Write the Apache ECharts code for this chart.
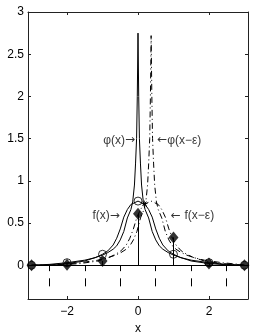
<!DOCTYPE html>
<html><head><meta charset="utf-8">
<script src="https://cdn.jsdelivr.net/npm/echarts@6/dist/echarts.min.js"></script>
<style>html,body{margin:0;padding:0;background:#fff}#c{width:256px;height:334px}</style>
</head><body><div id="c"></div>
<script>
// phi(x): solid spike
const phiX = [-3,-2.5,-2,-1.5,-1,-0.85,-0.7,-0.6,-0.5,-0.4,-0.3,-0.2,-0.15,-0.1,-0.07,-0.04,-0.02,0,0.02,0.04,0.07,0.1,0.15,0.2,0.3,0.4,0.5,0.6,0.7,0.85,1,1.5,2,2.5,3];
const phiY = [0,0.005,0.02,0.05,0.12,0.15,0.19,0.23,0.3,0.4,0.56,0.66,0.75,0.95,1.2,1.5,2.0,2.75,2.0,1.5,1.2,0.95,0.75,0.66,0.56,0.4,0.3,0.23,0.19,0.15,0.12,0.05,0.02,0.005,0];
// phi(x-eps): dash-dot spike
const phiEpsX = [-3,-2.63,-2.13,-1.63,-1.13,-0.63,-0.48,-0.33,-0.23,-0.13,-0.03,0.07,0.17,0.22,0.27,0.30,0.33,0.35,0.37,0.39,0.41,0.44,0.47,0.52,0.57,0.67,0.77,0.87,0.97,1.07,1.22,1.37,1.87,2.37,2.87,3];
const phiEpsY = [0,0,0.005,0.02,0.05,0.12,0.15,0.19,0.23,0.3,0.4,0.56,0.66,0.75,0.95,1.2,1.5,2.0,2.72,2.0,1.5,1.2,0.95,0.75,0.66,0.56,0.4,0.3,0.23,0.19,0.15,0.12,0.05,0.02,0.005,0];
// f(x): solid smooth bump
const fX = [-3,-2.5,-2,-1.5,-1.2,-1,-0.85,-0.7,-0.6,-0.5,-0.4,-0.3,-0.2,0,0.2,0.3,0.4,0.5,0.6,0.7,0.85,1,1.2,1.5,2,2.5,3];
const fY = [0,0.01,0.03,0.06,0.09,0.13,0.17,0.24,0.32,0.43,0.57,0.66,0.72,0.76,0.72,0.66,0.57,0.43,0.32,0.24,0.17,0.13,0.09,0.06,0.03,0.01,0];
// f(x-eps): dash-dot bump
const fEpsX = [-3,-2.63,-2.13,-1.63,-1.13,-0.83,-0.63,-0.48,-0.33,-0.23,-0.13,-0.03,0.07,0.17,0.37,0.57,0.67,0.77,0.87,0.97,1.07,1.22,1.37,1.57,1.87,2.37,2.87,3];
const fEpsY = [0,0,0.01,0.03,0.06,0.09,0.13,0.17,0.24,0.32,0.43,0.57,0.66,0.72,0.76,0.72,0.66,0.57,0.43,0.32,0.24,0.17,0.13,0.09,0.06,0.03,0.01,0];
// samples
const circleX = [-3,-2,-1,0,1,2,3];
const circleY = [0,0.03,0.13,0.76,0.13,0.03,0];
const diamondX = [-3,-2,-1,0,1,2,3];
const diamondY = [0,0.005,0.05,0.61,0.33,0.02,0];
const starPt = [0.18,0.73];
// half-integer dashed marks below zero
const halfX = [-2.5,-1.5,-0.5,0.5,1.5,2.5];
const halfSeg1 = [0,-0.07];
const halfSeg2 = [-0.155,-0.25];
// ticks
const xTicks = [-2,0,2];
const yTicks = [0,0.5,1,1.5,2,2.5,3];
// annotations (text part and arrow part)
const annText = ['φ(x)','φ(x−ε)','f(x)','f(x−ε)'];
const annArrow = ['→','←','→','← '];
const annX = [-0.08,0.54,-0.51,0.92];
const annY = [1.48,1.48,0.59,0.59];
const annSide = ['left','right','left','right'];

const pairs = (xs, ys) => xs.map((x, i) => [x, ys[i]]);
const black = '#000';
const dashDot = [6,3,1,3];
const font = 'Liberation Sans, Arial, Helvetica, sans-serif';

function curve(xs, ys, dashed) {
  return {type:'line', data:pairs(xs, ys), symbol:'none', silent:true,
    lineStyle:{color:black, width:1, type: dashed ? dashDot : 'solid'}, z:3};
}
const segs = [];
diamondX.forEach((x, i) => segs.push({coords:[[x,0],[x,diamondY[i]]]}));
halfX.forEach(x => { segs.push({coords:[[x,halfSeg1[0]],[x,halfSeg1[1]]]}); segs.push({coords:[[x,halfSeg2[0]],[x,halfSeg2[1]]]}); });
segs.push({coords:[[-3.1,0],[3.1,0]]});

const axisLine = {show:true, onZero:false, lineStyle:{color:'#222', width:1}};
const chart = echarts.init(document.getElementById('c'), null, {renderer:'canvas'});
chart.setOption({
  animation:false,
  grid:{left:28, right:8, top:12, bottom:35, containLabel:false, outerBoundsMode:'none'},
  xAxis:[
    {type:'value', min:-3.1, max:3.1, position:'bottom', axisLine,
     axisTick:{show:true, inside:true, length:3, customValues:xTicks, lineStyle:{color:'#222'}},
     axisLabel:{customValues:xTicks, color:black, fontSize:12, fontFamily:font, margin:7,
       formatter:v => String(v).replace('-', '−')},
     splitLine:{show:false},
     name:'x', nameLocation:'middle', nameGap:21, nameTextStyle:{color:black, fontSize:12, fontFamily:font}},
    {type:'value', min:-3.1, max:3.1, position:'top', axisLine,
     axisTick:{show:true, inside:true, length:3, customValues:xTicks, lineStyle:{color:'#222'}},
     axisLabel:{show:false}, splitLine:{show:false}}
  ],
  yAxis:[
    {type:'value', min:-0.4, max:3, position:'left', axisLine,
     axisTick:{show:true, inside:true, length:3, customValues:yTicks, lineStyle:{color:'#222'}},
     axisLabel:{customValues:yTicks, color:black, fontSize:12, fontFamily:font, margin:4},
     splitLine:{show:false}},
    {type:'value', min:-0.4, max:3, position:'right', axisLine,
     axisTick:{show:true, inside:true, length:3, customValues:yTicks, lineStyle:{color:'#222'}},
     axisLabel:{show:false}, splitLine:{show:false}}
  ],
  series:[
    {type:'lines', coordinateSystem:'cartesian2d', data:segs, silent:true,
     lineStyle:{color:black, width:1, opacity:1}, z:2},
    curve(phiX, phiY, false),
    curve(phiEpsX, phiEpsY, true),
    curve(fX, fY, false),
    curve(fEpsX, fEpsY, true),
    {type:'scatter', data:pairs(circleX, circleY), symbol:'circle', symbolSize:8, silent:true,
     itemStyle:{color:'rgba(0,0,0,0)', borderColor:black, borderWidth:1}, z:4},
    {type:'scatter', data:pairs(diamondX, diamondY), symbol:'diamond', symbolSize:[10,12], silent:true,
     itemStyle:{color:black}, z:5},
    {type:'scatter', data:[starPt], symbol:'path://M5,0L5,10M0,5L10,5M1.5,1.5L8.5,8.5M8.5,1.5L1.5,8.5',
     symbolSize:6, silent:true, itemStyle:{color:'rgba(0,0,0,0)', borderColor:black, borderWidth:1}, z:5},
    {type:'scatter', symbolSize:0, silent:true, z:6,
     data:annText.map((t, i) => ({name:t, value:[annX[i], annY[i]],
       label:{show:true, position:annSide[i], distance:0, color:black, fontSize:12, fontFamily:font,
         formatter: annSide[i] === 'left' ? '{t|' + t + '}{a|' + annArrow[i] + '}' : '{a|' + annArrow[i] + '}{t|' + t + '}',
         rich:{t:{color:black, fontSize:12, fontFamily:font},
               a:{color:black, fontSize:12, fontFamily:'DejaVu Sans'}}}}))}
  ]
});
</script></body></html>
